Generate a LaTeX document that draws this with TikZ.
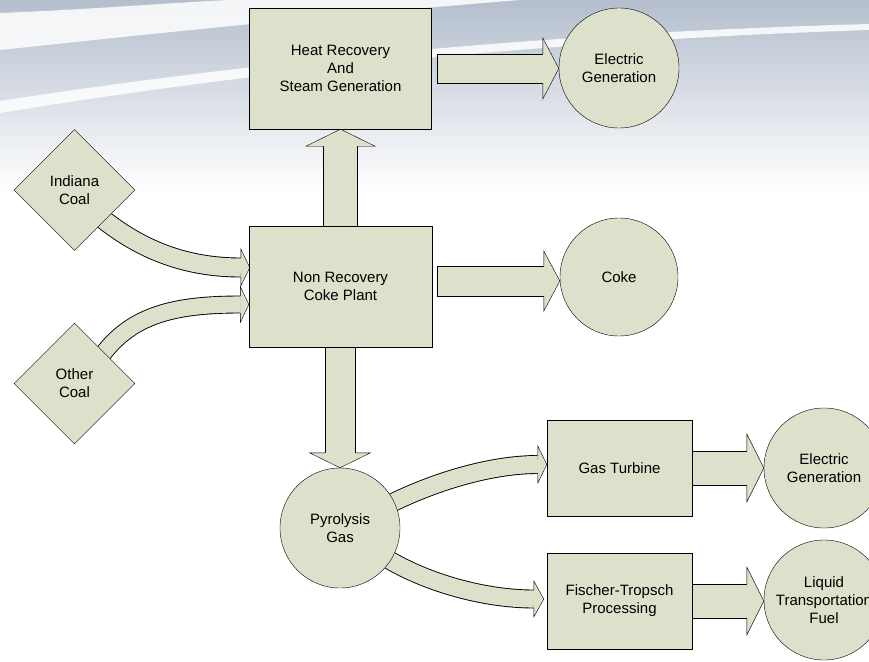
\documentclass[tikz,border=0pt]{standalone}
\usepackage{fontspec}
\setmainfont{Liberation Sans}
\usetikzlibrary{shapes,arrows}

\definecolor{boxfill}{RGB}{221,224,203}
\definecolor{skygray}{RGB}{180,190,205}
\definecolor{skylight}{RGB}{216,221,230}

\pgfdeclarelayer{bg}
\pgfdeclarelayer{pipes}
\pgfsetlayers{bg,pipes,main}

\tikzset{
    pics/head/.style n args={3}{code={
        \filldraw[fill=boxfill] (0,#1) -- (0,#2) -- (#3,0) -- (0,-#2) -- (0,-#1);
    }}
}

\begin{document}
\begin{tikzpicture}[x=1pt, y=-1pt, line width=0.9pt,
    font=\fontsize{15}{18}\selectfont,
    box/.style={draw, fill=boxfill, rectangle, align=center, inner sep=0pt},
    disc/.style={draw, fill=boxfill, circle, align=center, inner sep=0pt, minimum size=120},
    coal/.style={draw, fill=boxfill, diamond, aspect=1, align=center, inner sep=0pt, minimum size=121},
    shaft/.style={draw, fill=boxfill},
    fat/.style 2 args={draw=black, line width=#1pt, postaction={draw=boxfill, line width=#2pt}}]

    \useasboundingbox (0,0) rectangle (869,661);

    \begin{pgfonlayer}{bg}
        \fill[white] (0,0) rectangle (869,661);
        \shade[top color=skygray, middle color=skylight, bottom color=white] (0,0) rectangle (869,190);
        \fill[white, opacity=0.85] (0,13) .. controls (100,9) and (180,2) .. (230,0) -- (520,0) .. controls (300,18) and (150,34) .. (0,50) -- cycle;
        \fill[white, opacity=0.85] (0,101) .. controls (200,70) and (500,34) .. (869,24) -- (869,30) .. controls (500,42) and (200,80) .. (0,113) -- cycle;
    \end{pgfonlayer}

    \node[box, minimum width=182, minimum height=121] (heat) at (340.5,68.5) {Heat Recovery\\And\\Steam Generation};
    \node[disc] (elec1) at (619,68) {Electric\\Generation};
    \node[box, minimum width=183, minimum height=121] (plant) at (340.5,286.5) {Non Recovery\\Coke Plant};
    \node[disc, minimum size=118] (coke) at (619,277) {Coke};
    \node[coal] (indiana) at (74.5,190) {Indiana\\Coal};
    \node[coal] (other) at (74.5,383.5) {Other\\Coal};
    \node[disc] (pyro) at (340,528) {Pyrolysis\\Gas};
    \node[box, minimum width=145, minimum height=96] (turbine) at (619.5,468) {Gas Turbine};
    \node[box, minimum width=145, minimum height=96] (ft) at (619.5,601) {Fischer-Tropsch\\Processing};
    \node[disc] (elec2) at (824,468) {Electric\\Generation};
    \node[disc] (fuel) at (824,600) {Liquid\\Transportation\\Fuel};

    \coordinate (hs) at ([xshift=5]heat.east);
    \coordinate (he) at ([xshift=-16]hs -| elec1.west);
    \coordinate (cs) at ([shift={(5,-5.5)}]plant.east);
    \coordinate (ce) at ([xshift=-16]cs -| coke.west);
    \coordinate (gs) at ([xshift=-2]turbine.east);
    \coordinate (ge) at ([xshift=-17]gs -| elec2.west);
    \coordinate (fs) at ([xshift=-2]ft.east);
    \coordinate (fe) at ([xshift=-17]fs -| fuel.west);
    \coordinate (ue) at ([yshift=-17]heat.south);
    \coordinate (us) at ([yshift=-2]ue |- plant.north);
    \coordinate (de) at ([yshift=15]pyro.north);
    \coordinate (ds) at ([yshift=2]de |- plant.south);
    \coordinate (is) at ([shift={(27,28)}]indiana.center);
    \coordinate (ie) at ([shift={(-8,-19)}]plant.west);
    \coordinate (os) at ([shift={(28,-29)}]other.center);
    \coordinate (oe) at ([shift={(-8.5,18)}]plant.west);
    \coordinate (ps) at ([shift={(50.5,-24.3)}]pyro.center);
    \coordinate (pe) at ([shift={(-9,-3.5)}]turbine.west);
    \coordinate (qs) at ([shift={(47,30.7)}]pyro.center);
    \coordinate (qe) at ([shift={(-13,-2)}]ft.west);

    \begin{pgfonlayer}{pipes}
        \filldraw[shaft] ([shift={(0,-14.5)}]hs) rectangle ([shift={(1,14.5)}]he);
        \pic at (he) {head={14.5}{30.5}{16}};

        \filldraw[shaft] ([shift={(0,-15)}]cs) rectangle ([shift={(1,15)}]ce);
        \pic at (ce) {head={15}{30}{16}};

        \filldraw[shaft] ([shift={(0,-17)}]gs) rectangle ([shift={(1,17)}]ge);
        \pic at (ge) {head={17}{34}{17}};

        \filldraw[shaft] ([shift={(0,-17)}]fs) rectangle ([shift={(1,17)}]fe);
        \pic at (fe) {head={17}{34}{17}};

        \filldraw[shaft] ([shift={(-17,0)}]us) rectangle ([shift={(17,-1)}]ue);
        \pic[rotate=90] at (ue) {head={17}{34.5}{17}};

        \filldraw[shaft] ([shift={(-15,0)}]ds) rectangle ([shift={(15,1)}]de);
        \pic[rotate=-90] at (de) {head={15}{30.5}{15}};

        \draw[fat={19.9}{18.1}] (is) .. controls +(40,32) and +(-55,0) .. (ie);
        \pic at (ie) {head={9.5}{18.5}{9}};

        \draw[fat={17.9}{16.1}] (os) .. controls +(30,-40) and +(-65,0) .. (oe);
        \pic at (oe) {head={8.5}{18}{8.5}};

        \draw[fat={18.9}{17.1}] (ps) .. controls +(40,-20) and +(-50,0) .. (pe);
        \pic at (pe) {head={9}{18.5}{9}};

        \draw[fat={18.9}{17.1}] (qs) .. controls +(40,24) and +(-50,0) .. (qe);
        \pic at (qe) {head={9}{18}{10}};
    \end{pgfonlayer}
\end{tikzpicture}
\end{document}
